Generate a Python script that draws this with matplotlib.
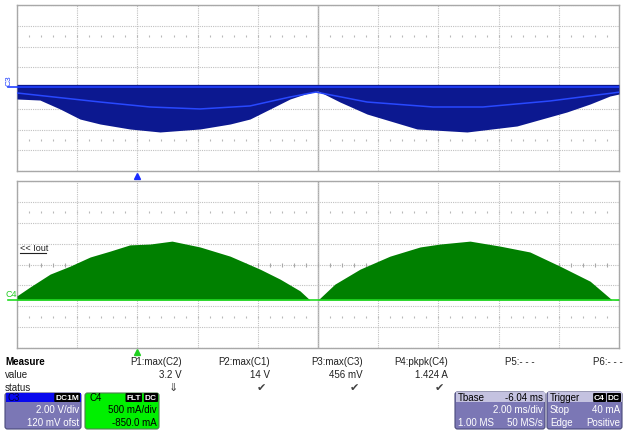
import numpy as np
import matplotlib
matplotlib.use("Agg")
import matplotlib.pyplot as plt
from matplotlib.patches import FancyBboxPatch, Rectangle

plt.rcParams["font.family"] = ["Liberation Sans", "DejaVu Sans"]

# Data ------------------------------------------------------------------------
# C3 (V), time in ms across 10 div x 2 ms
c3_t = [0.0, 0.76, 1.43, 2.09, 2.76, 3.75, 4.75, 6.08, 7.08, 7.74, 8.41, 9.07,
        9.57, 10.0, 10.73, 11.63, 13.29, 14.95, 16.61, 18.27, 19.04, 19.70, 20.0]
c3_low = [-1.06, -1.16, -2.02, -2.99, -3.47, -3.95, -4.24, -3.95, -3.47, -2.99,
          -2.02, -1.06, -0.58, -0.29, -1.35, -2.51, -3.95, -4.24, -3.66, -2.31,
          -1.54, -0.77, -0.58]
c3_high = 0.35
c3_level = 0.1
c3_mean_t = [0.0, 2.76, 4.42, 6.08, 7.74, 9.07, 9.93, 11.63, 13.82, 15.48, 17.71, 19.80, 20.0]
c3_mean = [-0.48, -1.35, -1.83, -2.02, -1.73, -0.87, -0.39, -1.35, -1.83, -1.83,
           -1.25, -0.48, -0.40]

# C4 (A)
c4_t = [0.0, 0.43, 1.10, 1.76, 2.43, 3.09, 3.75, 4.42, 5.15, 6.08, 7.08, 8.07,
        8.74, 9.40, 9.73, 10.00, 10.56, 11.40, 12.39, 13.39, 14.05, 15.05, 16.05,
        17.04, 18.04, 19.04, 19.77, 20.00]
c4_env = [0.10, 0.31, 0.62, 0.81, 1.03, 1.17, 1.32, 1.34, 1.41, 1.27, 1.05, 0.74,
          0.50, 0.22, 0.00, 0.00, 0.38, 0.74, 1.05, 1.27, 1.34, 1.41, 1.29, 1.15,
          0.81, 0.45, 0.00, 0.02]

trig_t = 4.0

meas_names = ["P1:max(C2)", "P2:max(C1)", "P3:max(C3)", "P4:pkpk(C4)", "P5:- - -", "P6:- - -"]
meas_values = ["3.2 V", "14 V", "456 mV", "1.424 A", "", ""]
meas_status = ["\u21d3", "\u2714", "\u2714", "\u2714", "", ""]
meas_right = [182, 270, 363, 448, 535, 623]

# Figure ----------------------------------------------------------------------
W, H = 623, 431
fig = plt.figure(figsize=(W / 100, H / 100), dpi=100)
fig.patch.set_facecolor("white")


def px_axes(x0, y0, x1, y1):
    return fig.add_axes([x0 / W, 1 - y1 / H, (x1 - x0) / W, (y1 - y0) / H])


ax1 = px_axes(17, 6, 619, 172)
ax2 = px_axes(17, 182, 619, 349)
ax1.set_ylim(-8, 8)
c4_center = 0.85
ax2.set_ylim(c4_center - 2.0, c4_center + 2.0)

for ax, (y0, y1) in ((ax1, ax1.get_ylim()), (ax2, ax2.get_ylim())):
    ax.set_xlim(0, 20)
    ax.set_xticks(np.arange(0, 20.01, 2))
    ax.set_yticks(np.linspace(y0, y1, 9))
    ax.tick_params(length=0, labelbottom=False, labelleft=False)
    ax.grid(True, ls=(0, (1, 1)), color="#c0c0c0", lw=0.8)
    for s in ax.spines.values():
        s.set_color("#a8a8a8")
        s.set_linewidth(1.0)
    ax.axvline(10, color="#a8a8a8", lw=1.0, zorder=1)
    dy = (y1 - y0) / 8
    xs = np.arange(0.4, 20, 0.4)
    for yy in (y0 + 1.5 * dy, y1 - 1.5 * dy):
        ax.plot(xs, np.full_like(xs, yy), ls="none", marker="|", ms=1.5,
                color="#b8b8b8", mew=0.8)
    ax.plot(xs, np.full_like(xs, (y0 + y1) / 2), ls="none", marker="|", ms=3,
            color="#a8a8a8", mew=0.8)

# C3 trace
ax1.fill_between(c3_t, c3_low, c3_high, color="#0c1890", lw=0, zorder=3)
ax1.axhline(c3_level, color="#2040ff", lw=1.2, zorder=4)
ax1.plot(c3_mean_t, c3_mean, color="#2848ff", lw=1.1, zorder=4)
ax1.plot([trig_t], [-8.45], marker="^", ms=5, color="#1a2cff", clip_on=False)

# C4 trace
ax2.fill_between(c4_t, 0, c4_env, color="#008000", lw=0, zorder=3)
ax2.axhline(0, color="#22dd22", lw=1.2, zorder=4)
ax2.plot([trig_t], [c4_center - 2.1], marker="^", ms=5, color="#20d020", clip_on=False)

# Overlay in pixels -----------------------------------------------------------
ov = fig.add_axes([0, 0, 1, 1])
ov.set_xlim(0, W)
ov.set_ylim(H, 0)
ov.axis("off")

fs = 7
ov.plot([8, 17], [88, 88], color="#2040ff", lw=1.2)
ov.text(9, 81, "C3", color="#2040ff", fontsize=6, rotation=90, ha="center", va="center")
ov.plot([8, 17], [301, 301], color="#22dd22", lw=1.2)
ov.text(6, 295, "C4", color="#22cc22", fontsize=6.5, ha="left", va="center")
ov.text(20, 249, "<< Iout", color="#202020", fontsize=6.5, ha="left", va="center")
ov.plot([20, 46], [254, 254], color="#202020", lw=0.8)

ov.text(5, 362, "Measure", fontsize=fs, weight="bold", va="center")
ov.text(5, 375, "value", fontsize=fs, va="center", color="#202020")
ov.text(5, 388, "status", fontsize=fs, va="center", color="#202020")
for name, val, st, xr in zip(meas_names, meas_values, meas_status, meas_right):
    ov.text(xr, 362, name, fontsize=fs, ha="right", va="center", color="#202020")
    ov.text(xr, 375, val, fontsize=fs, ha="right", va="center", color="#202020")
    ov.text(xr - 4, 388, st, fontsize=8, ha="right", va="center", color="#404040",
            family="DejaVu Sans")


def box(x0, y0, x1, y1, fc, ec="#4a4a7a"):
    ov.add_patch(FancyBboxPatch((x0, y0), x1 - x0, y1 - y0,
                                boxstyle="round,pad=0,rounding_size=2.5",
                                fc=fc, ec=ec, lw=0.8))


def tag(x, y, s):
    ov.text(x, y, s, fontsize=6, weight="bold", color="white", ha="right", va="center",
            bbox=dict(boxstyle="round,pad=0.12", fc="black", ec="none"))


body = "#7b77b5"
# C3 box
box(5, 394, 81, 430, body)
ov.add_patch(Rectangle((5.5, 394.5), 75, 8.5, fc="#0808ee", ec="none"))
ov.text(8, 398.5, "C3", fontsize=fs, color="#000040", va="center")
tag(79, 398.5, "DC1M")
ov.text(79, 410, "2.00 V/div", fontsize=fs, color="white", ha="right", va="center")
ov.text(79, 423, "120 mV ofst", fontsize=fs, color="white", ha="right", va="center")

# C4 box
box(85, 394, 159, 430, "#00f000", ec="#508050")
ov.text(89, 398.5, "C4", fontsize=fs, color="black", va="center")
tag(141, 398.5, "FLT")
tag(157, 398.5, "DC")
ov.text(157, 410, "500 mA/div", fontsize=fs, color="black", ha="right", va="center")
ov.text(157, 423, "-850.0 mA", fontsize=fs, color="black", ha="right", va="center")

# Tbase box
box(455, 393, 545, 430, body)
ov.add_patch(Rectangle((455.5, 393.5), 89, 9.5, fc="#c4c2e0", ec="none"))
ov.text(458, 398.5, "Tbase", fontsize=fs, color="black", va="center")
ov.text(543, 398.5, "-6.04 ms", fontsize=fs, color="black", ha="right", va="center")
ov.text(543, 410, "2.00 ms/div", fontsize=fs, color="white", ha="right", va="center")
ov.text(458, 423, "1.00 MS", fontsize=fs, color="white", va="center")
ov.text(543, 423, "50 MS/s", fontsize=fs, color="white", ha="right", va="center")

# Trigger box
box(547, 393, 622, 430, body)
ov.add_patch(Rectangle((547.5, 393.5), 74, 9.5, fc="#c4c2e0", ec="none"))
ov.text(550, 398.5, "Trigger", fontsize=fs, color="black", va="center")
tag(605, 398.5, "C4")
tag(620, 398.5, "DC")
ov.text(550, 410, "Stop", fontsize=fs, color="white", va="center")
ov.text(620, 410, "40 mA", fontsize=fs, color="white", ha="right", va="center")
ov.text(550, 423, "Edge", fontsize=fs, color="white", va="center")
ov.text(620, 423, "Positive", fontsize=fs, color="white", ha="right", va="center")

fig.savefig("out.png", dpi=100, facecolor="white")
